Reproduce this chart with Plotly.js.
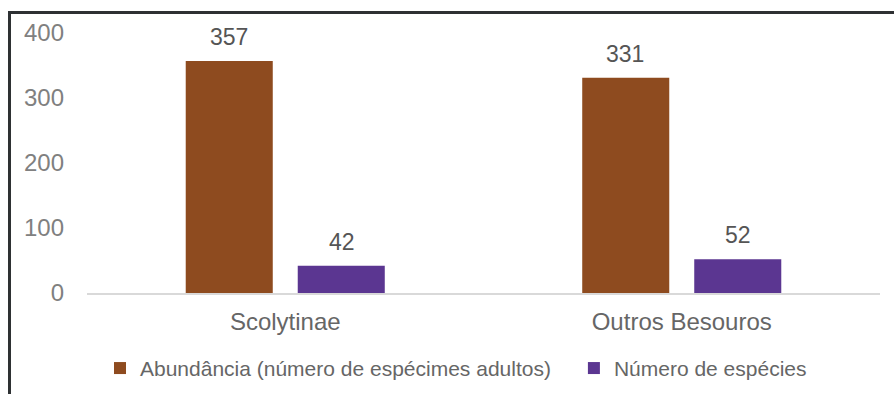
<!DOCTYPE html>
<html>
<head>
<meta charset="utf-8">
<script src="https://cdn.plot.ly/plotly-3.0.1.min.js"></script>
<style>
  html, body { margin: 0; padding: 0; background: #ffffff; }
  #chart { position: absolute; left: 0; top: 0; width: 894px; height: 394px; }
  #frame { position: absolute; left: 8px; top: 11px; width: 886px; height: 383px;
           border-left: 3px solid #2e3133; border-top: 3px solid #2e3133;
           pointer-events: none; box-sizing: border-box; }
</style>
</head>
<body>
<div id="chart"></div>
<div id="frame"></div>
<script>
const categories = ["Scolytinae", "Outros Besouros"];
const abundancia = [357, 331];
const especies = [42, 52];
const seriesNames = ["Abundância (número de espécimes adultos)", "Número de espécies"];
const yTicks = [0, 100, 200, 300, 400];

const FONT = "Liberation Sans, Arial, sans-serif";
const brown = "#8e4b1f";
const purple = "#5b3691";

const traces = [
  { type: "bar", name: seriesNames[0], x: categories, y: abundancia,
    marker: { color: brown }, hoverinfo: "none", legend: "legend" },
  { type: "bar", name: seriesNames[1], x: categories, y: especies,
    marker: { color: purple }, hoverinfo: "none", legend: "legend2" }
];

const annotations = [];
[abundancia, especies].forEach((vals, si) => {
  vals.forEach((v, i) => {
    annotations.push({
      x: categories[i], y: v, xref: "x", yref: "y",
      text: String(v), showarrow: false,
      xshift: si === 0 ? -56.5 : 56.5, yanchor: "bottom", yshift: 9,
      font: { family: FONT, size: 23, color: "#555555" }
    });
  });
});

const legendFont = { family: FONT, size: 21, color: "#666666" };

const layout = {
  width: 894, height: 394,
  margin: { l: 87, r: 14, t: 33, b: 101, autoexpand: false },
  paper_bgcolor: "#ffffff",
  plot_bgcolor: "rgba(0,0,0,0)",
  barmode: "group",
  bargap: 0.435,
  bargroupgap: 0.223,
  showlegend: true,
  legend: {
    orientation: "h", x: 0.0164, xanchor: "left", y: -0.29, yanchor: "middle",
    font: legendFont, itemclick: false, bgcolor: "rgba(0,0,0,0)"
  },
  legend2: {
    orientation: "h", x: 0.614, xanchor: "left", y: -0.29, yanchor: "middle",
    font: legendFont, itemclick: false, bgcolor: "rgba(0,0,0,0)"
  },
  xaxis: {
    type: "category",
    showgrid: false, zeroline: false,
    showline: true, linecolor: "#d9d9d9", linewidth: 1.5,
    ticks: "", ticklabelstandoff: 7,
    tickfont: { family: FONT, size: 24, color: "#666666" }
  },
  yaxis: {
    range: [0, 400], tickvals: yTicks, ticktext: yTicks.map(String),
    showgrid: false, zeroline: false, showline: false,
    ticks: "", ticklabelstandoff: 22,
    tickfont: { family: FONT, size: 24, color: "#808080" }
  },
  annotations: annotations
};

Plotly.newPlot("chart", traces, layout, { staticPlot: true, displayModeBar: false });
</script>
</body>
</html>
